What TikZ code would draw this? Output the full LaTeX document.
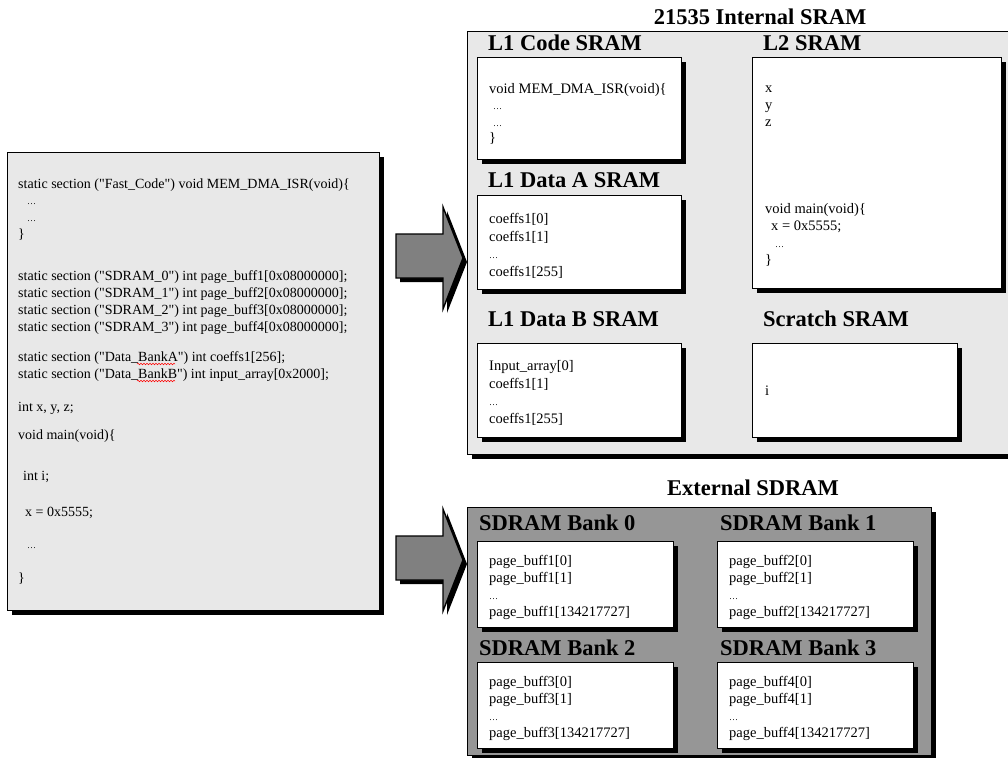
\documentclass[tikz,border=0pt]{standalone}
\usepackage{fontspec}
\setmainfont{Liberation Serif}
\usetikzlibrary{shadows,decorations.pathmorphing}

\definecolor{panelgray}{RGB}{232,232,232}
\definecolor{bankgray}{RGB}{150,150,150}
\definecolor{arrowgray}{RGB}{128,128,128}
\newcommand{\codedots}{{\fontsize{9}{9}\selectfont\ldots}}
\newcommand{\qq}{\textquotedbl}

\begin{document}
\begin{tikzpicture}[x=1pt, y=-1pt,
  shade box/.style={draw=black, line width=1.4pt,
               drop shadow={shadow xshift=4pt, shadow yshift=-4pt, opacity=1, fill=black}},
  area/.style={shade box, anchor=north west, inner sep=0pt},
  membox/.style={shade box, fill=white, anchor=north west, inner sep=0pt},
  blockarrow/.style={shade box, fill=arrowgray},
  title/.style={inner sep=0pt, font=\fontsize{22.5}{26}\selectfont\bfseries},
  head/.style={anchor=west, inner sep=0pt, font=\fontsize{22.5}{26}\selectfont\bfseries},
  code/.style={anchor=base west, inner sep=0pt, font=\fontsize{14}{17}\selectfont},
  boxtxt/.style={anchor=base west, inner sep=0pt, font=\fontsize{14.5}{17}\selectfont},
  squiggle/.style={red, line width=0.5pt, decorate,
               decoration={snake, amplitude=0.8pt, segment length=3pt}}]
\useasboundingbox (0,0) rectangle (1008,757);

% source listing
\node[area, fill=panelgray, minimum width=372pt, minimum height=458pt] (src) at (7,152) {};
\node[code] (src1) at (18,188) {static section (\qq Fast\_Code\qq) void MEM\_DMA\_ISR(void)\{};
\node[code] (src2) at (27,204) {\codedots};
\node[code] (src3) at (27,221) {\codedots};
\node[code] (src4) at (18,238) {\}};
\node[code] (src5) at (18,280) {static section (\qq SDRAM\_0\qq) int page\_buff1[0x08000000];};
\node[code] (src6) at (18,297) {static section (\qq SDRAM\_1\qq) int page\_buff2[0x08000000];};
\node[code] (src7) at (18,314) {static section (\qq SDRAM\_2\qq) int page\_buff3[0x08000000];};
\node[code] (src8) at (18,331) {static section (\qq SDRAM\_3\qq) int page\_buff4[0x08000000];};
\node[code] (src9) at (18,361) {static section (\qq Data\_BankA\qq) int coeffs1[256];};
\node[code] (src10) at (18,378) {static section (\qq Data\_BankB\qq) int input\_array[0x2000];};
\node[code] (src11) at (18,411) {int x, y, z;};
\node[code] (src12) at (18,439) {void main(void)\{};
\node[code] (src13) at (23,480) {int i;};
\node[code] (src14) at (25,516) {x = 0x5555;};
\node[code] (src15) at (27,548) {\codedots};
\node[code] (src16) at (18,582) {\}};
\draw[squiggle] (137,364) -- (175,364);
\draw[squiggle] (137,381) -- (175,381);

% arrows
\foreach \ay in {0,302}
  \draw[blockarrow] (396,234+\ay) -- (443,234+\ay) -- (443,207+\ay) -- (463,258+\ay)
    -- (443,309+\ay) -- (443,278+\ay) -- (396,278+\ay) -- cycle;

% internal SRAM
\node[title] (inttitle) at (760,17) {21535 Internal SRAM};
\node[area, fill=panelgray, minimum width=545pt, minimum height=423pt] (intsram) at (467,31) {};

\node[head] (codehead) at (488,43) {L1 Code SRAM};
\node[membox, minimum width=204pt, minimum height=102pt] (codesram) at (477,57) {};
\node[boxtxt] (code1) at (489,94) {void MEM\_DMA\_ISR(void)\{};
\node[boxtxt] (code2) at (493,110) {\codedots};
\node[boxtxt] (code3) at (493,126) {\codedots};
\node[boxtxt] (code4) at (489,142) {\}};

\node[head] (l2head) at (763,43) {L2 SRAM};
\node[membox, minimum width=249pt, minimum height=231pt] (l2sram) at (752,57) {};
\node[boxtxt] (l2x) at (765,93) {x};
\node[boxtxt] (l2y) at (765,110) {y};
\node[boxtxt] (l2z) at (765,127) {z};
\node[boxtxt] (l2main1) at (765,213) {void main(void)\{};
\node[boxtxt] (l2main2) at (771,230) {x = 0x5555;};
\node[boxtxt] (l2main3) at (775,247) {\codedots};
\node[boxtxt] (l2main4) at (765,264) {\}};

\node[head] (dataAhead) at (488,180) {L1 Data A SRAM};
\node[membox, minimum width=204pt, minimum height=94pt] (dataA) at (477,195) {};
\node[boxtxt] (dataA1) at (489,223) {coeffs1[0]};
\node[boxtxt] (dataA2) at (489,241) {coeffs1[1]};
\node[boxtxt] (dataA3) at (489,258) {\codedots};
\node[boxtxt] (dataA4) at (489,276) {coeffs1[255]};

\node[head] (dataBhead) at (488,319) {L1 Data B SRAM};
\node[membox, minimum width=204pt, minimum height=94pt] (dataB) at (477,343) {};
\node[boxtxt] (dataB1) at (489,370) {Input\_array[0]};
\node[boxtxt] (dataB2) at (489,388) {coeffs1[1]};
\node[boxtxt] (dataB3) at (489,405) {\codedots};
\node[boxtxt] (dataB4) at (489,423) {coeffs1[255]};

\node[head] (scratchhead) at (763,319) {Scratch SRAM};
\node[membox, minimum width=205pt, minimum height=94pt] (scratch) at (752,343) {};
\node[boxtxt] (scratch1) at (765,395) {i};

% external SDRAM
\node[title] (exttitle) at (753,488) {External SDRAM};
\node[area, fill=bankgray, minimum width=464pt, minimum height=248pt] (extsdram) at (467,507) {};
\foreach \b/\bx/\by/\hx/\hy in {0/477/541/479/523, 1/717/541/720/523,
                                2/477/662/479/648, 3/717/662/720/648} {
  \pgfmathtruncatemacro{\nb}{\b+1}
  \node[head] (bank\b-h) at (\hx,\hy) {SDRAM Bank \b};
  \node[membox, minimum width=196pt, minimum height=86pt] (bank\b) at (\bx,\by) {};
  \node[boxtxt] (bank\b-1) at (\bx+12,\by+24) {page\_buff\nb[0]};
  \node[boxtxt] (bank\b-2) at (\bx+12,\by+41) {page\_buff\nb[1]};
  \node[boxtxt] (bank\b-3) at (\bx+12,\by+58) {\codedots};
  \node[boxtxt] (bank\b-4) at (\bx+12,\by+75) {page\_buff\nb[134217727]};
}
\end{tikzpicture}
\end{document}
